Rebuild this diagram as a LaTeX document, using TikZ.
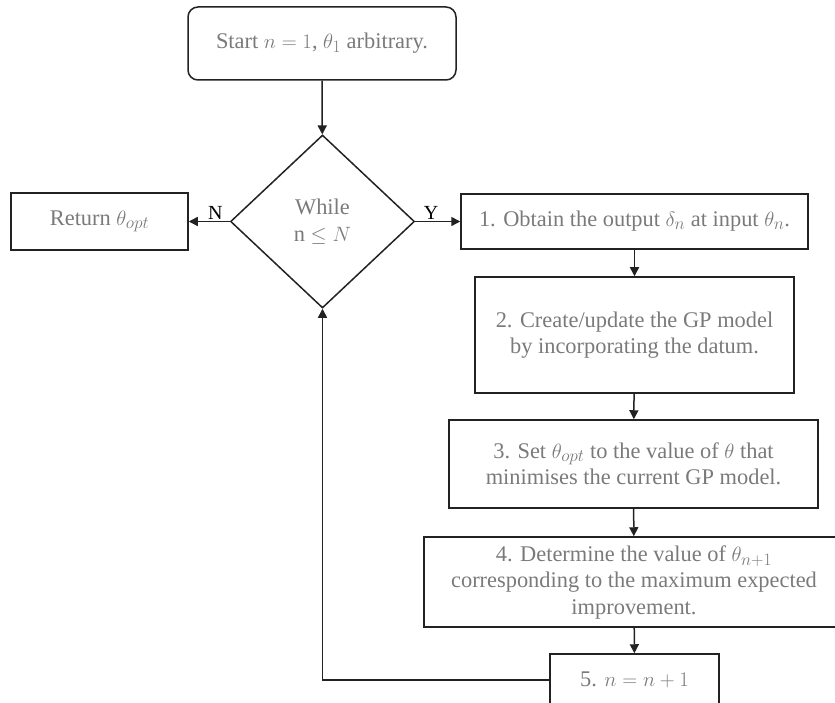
\documentclass[tikz,border=0pt]{standalone}
\usepackage{fontspec}
\setmainfont{Liberation Serif}
\DeclareMathSizes{22.4}{22.4}{17}{13}
\usetikzlibrary{shapes.geometric,arrows.meta}
\definecolor{txtgray}{HTML}{7A7A7A}
\definecolor{linedark}{HTML}{222222}
\tikzset{
  box/.style={draw=linedark, line width=1.5pt, rectangle, inner sep=0pt, align=center, text=txtgray, font=\fontsize{22.4}{26.5}\selectfont},
  startbox/.style={box, rounded corners=10pt},
  decision/.style={draw=linedark, line width=1.5pt, diamond, inner sep=0pt, align=center, text=txtgray, font=\fontsize{22.4}{26.5}\selectfont},
  flow/.style={draw=linedark, line width=1.5pt, -{Triangle[length=9pt,width=9pt]}},
  lbl/.style={text=black, font=\fontsize{20}{22}\selectfont, inner sep=1pt}
}
\begin{document}
\begin{tikzpicture}[x=1pt,y=-1pt]
\useasboundingbox (0,0) rectangle (835,703);
\clip (0,0) rectangle (835,703);
\node[startbox, minimum width=268pt, minimum height=73pt] (start) at (322,43.5) {Start $n=1$, $\theta_1$ arbitrary.};
\node[decision, minimum width=184pt, minimum height=173pt] (dec) at (322.5,221.5) {While\\n $\leq N$};
\node[box, minimum width=177pt, minimum height=57pt] (ret) at (99.5,221.5) {Return $\theta_{opt}$};
\node[box, minimum width=347pt, minimum height=55pt] (s1) at (634.5,221.5) {1. Obtain the output $\delta_n$ at input $\theta_n$.};
\node[box, minimum width=319pt, minimum height=116pt] (s2) at (634.5,335) {2. Create/update the GP model\\by incorporating the datum.};
\node[box, minimum width=369pt, minimum height=88pt] (s3) at (633.5,464) {3. Set $\theta_{opt}$ to the value of $\theta$ that\\minimises the current GP model.};
\node[box, minimum width=420pt, minimum height=90pt] (s4) at (634,582) {4. Determine the value of $\theta_{n+1}$\\corresponding to the maximum expected\\improvement.};
\node[box, minimum width=169pt, minimum height=52pt] (s5) at (634.5,680) {5. $n=n+1$};
\draw[flow] (start) -- (dec);
\draw[flow] (dec.west) -- node[lbl, above, pos=0.35] {N} (ret.east);
\draw[flow] (dec.east) -- node[lbl, above, pos=0.35] {Y} (s1.west);
\draw[flow] (s1) -- (s2);
\draw[flow] (s2) -- (s3);
\draw[flow] (s3) -- (s4);
\draw[flow] (s4) -- (s5);
\draw[flow] (s5.west) -| (dec.south);
\end{tikzpicture}
\end{document}
